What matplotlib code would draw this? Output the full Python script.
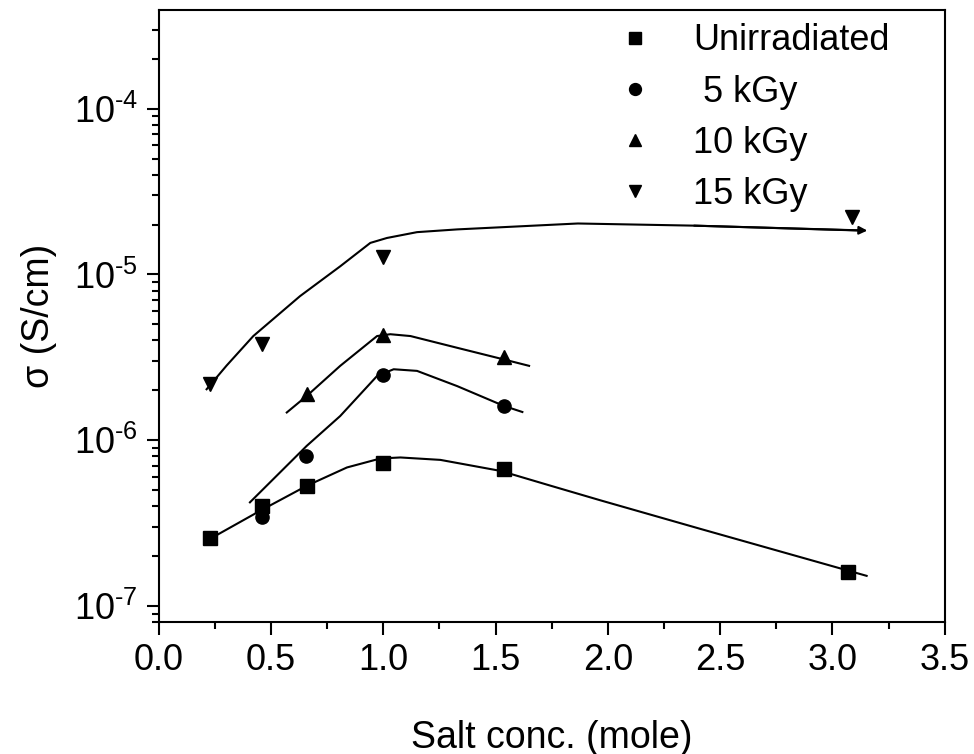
import matplotlib.pyplot as plt
import numpy as np
from matplotlib.ticker import LogLocator, MultipleLocator, NullFormatter

plt.rcParams['font.family'] = ['Liberation Sans', 'DejaVu Sans']
plt.rcParams['mathtext.fontset'] = 'custom'
plt.rcParams['mathtext.rm'] = 'Liberation Sans'
plt.rcParams['mathtext.it'] = 'Liberation Sans'

# measured points
x_unirr = [0.23, 0.46, 0.66, 1.0, 1.536, 3.07]
y_unirr = [2.57e-7, 4.0e-7, 5.3e-7, 7.3e-7, 6.7e-7, 1.6e-7]
x_5k = [0.46, 0.656, 1.0, 1.536]
y_5k = [3.43e-7, 8.0e-7, 2.46e-6, 1.6e-6]
x_10k = [0.66, 1.0, 1.536]
y_10k = [1.89e-6, 4.3e-6, 3.16e-6]
x_15k = [0.23, 0.46, 1.0, 3.085]
y_15k = [2.17e-6, 3.78e-6, 1.28e-5, 2.23e-5]

# guide curves
fit_x_unirr = [0.205, 0.228, 0.451, 0.659, 0.838, 0.987, 1.076, 1.254, 1.522, 1.746, 1.969, 2.415, 3.152]
fit_y_unirr = [2.42e-7, 2.54e-7, 3.75e-7, 5.31e-7, 6.85e-7, 7.76e-7, 7.87e-7, 7.61e-7, 6.53e-7, 5.31e-7,
               4.33e-7, 2.91e-7, 1.52e-7]
fit_x_5k = [0.406, 0.659, 0.808, 0.972, 1.046, 1.15, 1.329, 1.537, 1.619]
fit_y_5k = [4.22e-7, 9.25e-7, 1.40e-6, 2.44e-6, 2.68e-6, 2.62e-6, 2.12e-6, 1.61e-6, 1.48e-6]
fit_x_10k = [0.57, 0.659, 0.808, 0.972, 1.031, 1.121, 1.329, 1.537, 1.649]
fit_y_10k = [1.47e-6, 1.85e-6, 2.81e-6, 4.25e-6, 4.36e-6, 4.25e-6, 3.61e-6, 3.07e-6, 2.81e-6]
fit_x_15k = [0.213, 0.302, 0.421, 0.629, 0.808, 0.942, 1.016, 1.15, 1.329, 1.866, 2.384, 3.13, 3.155]
fit_y_15k = [2.03e-6, 2.82e-6, 4.25e-6, 7.40e-6, 1.12e-5, 1.55e-5, 1.66e-5, 1.80e-5, 1.87e-5, 2.03e-5,
             1.97e-5, 1.84e-5, 1.84e-5]

labels = ['Unirradiated', ' 5 kGy', '10 kGy', '15 kGy']

fig = plt.figure(figsize=(9.74, 7.54), dpi=100)
ax = fig.add_axes([0.163, 0.175, 0.807, 0.812])

lw = 1.5
ax.plot(fit_x_unirr, fit_y_unirr, color='k', lw=lw)
ax.plot(fit_x_5k, fit_y_5k, color='k', lw=lw)
ax.plot(fit_x_10k, fit_y_10k, color='k', lw=lw)
ax.plot(fit_x_15k[:-1], fit_y_15k[:-1], color='k', lw=lw)
# little arrow head at the end of the 15 kGy curve
ax.annotate('', xy=(fit_x_15k[-1], fit_y_15k[-1]), xytext=(fit_x_15k[-3], fit_y_15k[-3]),
            arrowprops=dict(arrowstyle='-|>', color='k', lw=lw, mutation_scale=12, shrinkA=0, shrinkB=0))

ax.plot(x_unirr, y_unirr, 's', color='k', ms=9.5, ls='none', label=labels[0])
ax.plot(x_5k, y_5k, 'o', color='k', ms=9.5, ls='none', label=labels[1])
ax.plot(x_10k, y_10k, '^', color='k', ms=10, ls='none', label=labels[2])
ax.plot(x_15k, y_15k, 'v', color='k', ms=10, ls='none', label=labels[3])

ax.set_yscale('log')
ax.set_xlim(0, 3.5)
ax.set_ylim(8.0e-8, 3.95e-4)

ax.xaxis.set_major_locator(MultipleLocator(0.5))
ax.xaxis.set_minor_locator(MultipleLocator(0.25))
ax.xaxis.set_major_formatter(plt.FuncFormatter(lambda v, p: f'{v:.1f}'))
ax.yaxis.set_major_locator(LogLocator(base=10, numticks=10))
ax.yaxis.set_minor_locator(LogLocator(base=10, subs=np.arange(2, 10), numticks=20))
ax.yaxis.set_minor_formatter(NullFormatter())
ax.yaxis.set_major_formatter(plt.FuncFormatter(lambda v, p: r'$10^{\text{-}%d}$' % abs(round(np.log10(v)))))

ax.tick_params(which='major', direction='out', length=9, width=1.5, labelsize=26, pad=6)
ax.tick_params(which='minor', direction='out', length=5, width=1.5)
for s in ax.spines.values():
    s.set_linewidth(1.5)

ax.set_xlabel('Salt conc. (mole)', fontsize=27, labelpad=30)
ax.set_ylabel('σ (S/cm)', fontsize=27, labelpad=12)

ax.legend(loc='upper right', bbox_to_anchor=(0.966, 1.025), frameon=False, fontsize=26,
          markerscale=0.9, handletextpad=0.6, labelspacing=0.45, borderpad=0.3)

fig.savefig('out.png', dpi=100)
